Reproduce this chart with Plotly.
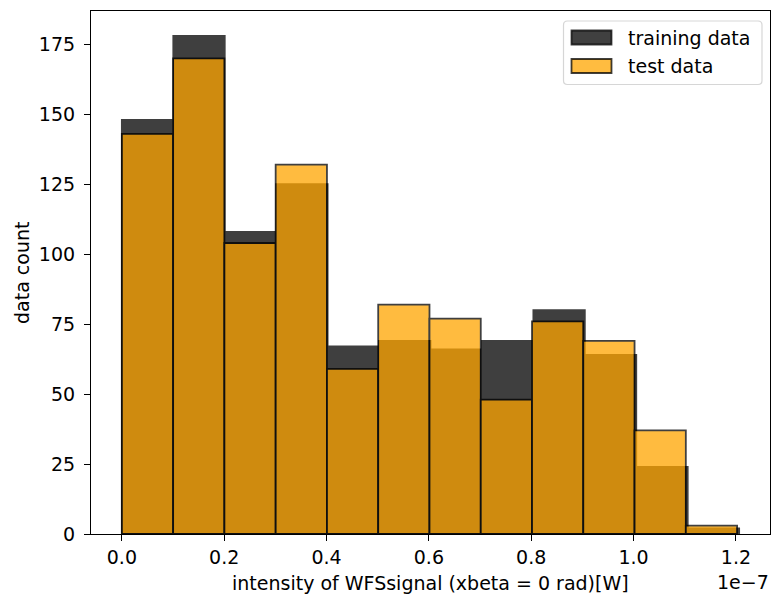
import numpy as np
import plotly.graph_objects as go

# Histogram counts per bin (12 bins each)
train_counts = [148, 178, 108, 125, 67, 69, 66, 69, 80, 64, 24, 2]
test_counts = [143, 170, 104, 132, 59, 82, 77, 48, 76, 69, 37, 3]

# Data ranges (W) over which the bins are spread
train_range = (0.0, 1.2063e-7)
test_range = (0.0, 1.2023e-7)

x_tick_vals = [0.0, 0.2e-7, 0.4e-7, 0.6e-7, 0.8e-7, 1.0e-7, 1.2e-7]
x_tick_text = ["0.0", "0.2", "0.4", "0.6", "0.8", "1.0", "1.2"]
y_tick_vals = [0, 25, 50, 75, 100, 125, 150, 175]

FONT = "DejaVu Sans"
FS = 19

W, H = 771, 597
ML, MR, MT, MB = 91, 1, 11, 63
PW, PH = W - ML - MR, H - MT - MB


def bins(counts, rng):
    edges = np.linspace(rng[0], rng[1], len(counts) + 1)
    centers = (edges[:-1] + edges[1:]) / 2
    widths = np.diff(edges)
    return centers, widths


fig = go.Figure()
for counts, rng, color in [
    (train_counts, train_range, "black"),
    (test_counts, test_range, "#FFA500"),
]:
    c, w = bins(counts, rng)
    fig.add_trace(go.Bar(
        x=c, y=counts, width=w,
        marker=dict(color=color, line=dict(color="black", width=1.8)),
        opacity=0.75, showlegend=False,
    ))

pad = 0.05 * (train_range[1] - train_range[0])
x_lo, x_hi = train_range[0] - pad, train_range[1] + pad
y_hi = max(max(train_counts), max(test_counts)) * 1.05


def px(x):
    return (x - ML) / PW


def py(y):
    return (H - MB - y) / PH


# Legend frame with rounded corners, drawn in plot-paper coordinates
lx0, lx1, ly0, ly1, r = 563.5, 762, 21, 84.5, 4
path = (
    f"M {px(lx0 + r)},{py(ly0)} L {px(lx1 - r)},{py(ly0)} "
    f"Q {px(lx1)},{py(ly0)} {px(lx1)},{py(ly0 + r)} "
    f"L {px(lx1)},{py(ly1 - r)} Q {px(lx1)},{py(ly1)} {px(lx1 - r)},{py(ly1)} "
    f"L {px(lx0 + r)},{py(ly1)} Q {px(lx0)},{py(ly1)} {px(lx0)},{py(ly1 - r)} "
    f"L {px(lx0)},{py(ly0 + r)} Q {px(lx0)},{py(ly0)} {px(lx0 + r)},{py(ly0)} Z"
)
shapes = [dict(type="path", xref="paper", yref="paper", path=path,
               fillcolor="rgba(255,255,255,0.8)",
               line=dict(color="rgba(204,204,204,0.8)", width=1.2))]
annotations = []
legend_items = [("training data", "rgba(0,0,0,0.75)", 30.5, 44.5),
                ("test data", "rgba(255,165,0,0.75)", 59, 73)]
for label, fill, y0, y1 in legend_items:
    shapes.append(dict(type="rect", xref="paper", yref="paper",
                       x0=px(571.5), x1=px(611.5), y0=py(y1), y1=py(y0),
                       fillcolor=fill,
                       line=dict(color="rgba(0,0,0,0.75)", width=1.8)))
    annotations.append(dict(xref="paper", yref="paper", x=px(625.5),
                            y=py((y0 + y1) / 2), text=label, showarrow=False,
                            xanchor="left", yanchor="middle",
                            font=dict(family=FONT, size=FS, color="black")))

annotations += [
    dict(xref="paper", yref="paper", x=px(430.5), y=py(583),
         text="intensity of WFSsignal (xbeta = 0 rad)[W]", showarrow=False,
         xanchor="center", yanchor="middle",
         font=dict(family=FONT, size=FS, color="black")),
    dict(xref="paper", yref="paper", x=px(22), y=py(273),
         text="data count", textangle=-90, showarrow=False,
         xanchor="center", yanchor="middle",
         font=dict(family=FONT, size=FS, color="black")),
    dict(xref="paper", yref="paper", x=px(771), y=py(582),
         text="1e\u22127", showarrow=False, xanchor="right", yanchor="middle",
         font=dict(family=FONT, size=FS, color="black")),
]

fig.update_layout(
    width=W, height=H,
    margin=dict(l=ML, r=MR, t=MT, b=MB, pad=0),
    barmode="overlay",
    plot_bgcolor="white", paper_bgcolor="white",
    font=dict(family=FONT, size=FS, color="black"),
    shapes=shapes, annotations=annotations,
    xaxis=dict(range=[x_lo, x_hi], tickvals=x_tick_vals, ticktext=x_tick_text,
               ticks="outside", ticklen=6, tickwidth=1.2, tickcolor="black",
               showline=True, linecolor="black", linewidth=1.2, mirror=True,
               showgrid=False, zeroline=False),
    yaxis=dict(range=[0, y_hi], tickvals=y_tick_vals,
               ticks="outside", ticklen=6, tickwidth=1.2, tickcolor="black",
               ticklabelstandoff=5,
               showline=True, linecolor="black", linewidth=1.2, mirror=True,
               showgrid=False, zeroline=False),
)

fig.write_html("out.html")
